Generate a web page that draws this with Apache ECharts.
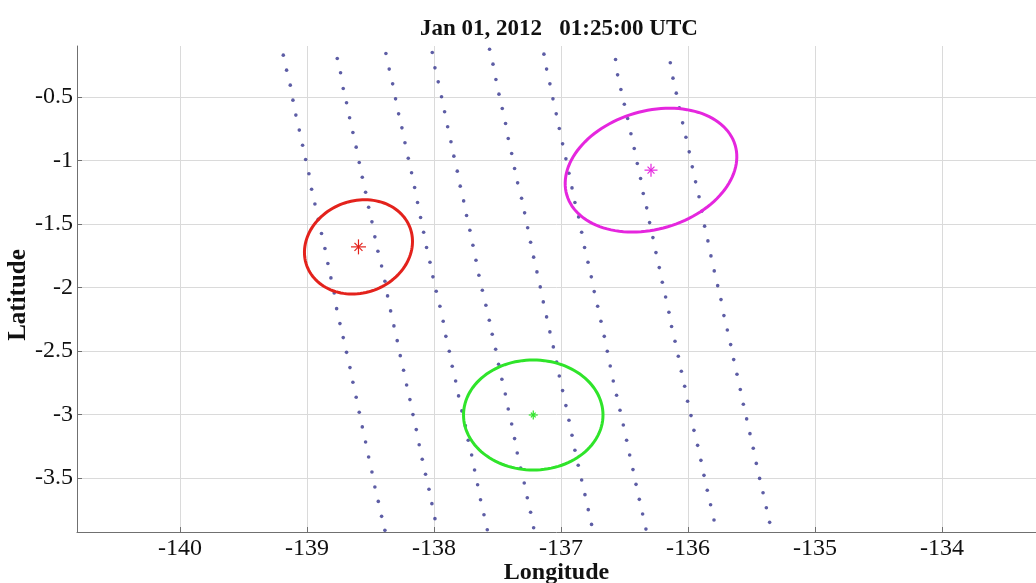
<!DOCTYPE html>
<html>
<head>
<meta charset="utf-8">
<title>Jan 01, 2012 01:25:00 UTC</title>
<script src="https://cdn.jsdelivr.net/npm/echarts@6/dist/echarts.min.js"></script>
<style>
  html, body { margin: 0; padding: 0; background: #fff; }
  #main { width: 1036px; height: 583px; }
</style>
</head>
<body>
<div id="main"></div>
<script>
// ground track samples, longitude / latitude in degrees
const pass1Lon = [-139.186,-139.160,-139.131,-139.110,-139.087,-139.060,-139.034,-139.010,-138.984,-138.963,-138.937,-138.911,-138.885,-138.858,-138.835,-138.811,-138.785,-138.766,-138.740,-138.714,-138.688,-138.661,-138.638,-138.612,-138.588,-138.564,-138.538,-138.514,-138.488,-138.465,-138.438,-138.412,-138.386];
const pass1Lat = [-0.172,-0.290,-0.408,-0.526,-0.644,-0.762,-0.881,-0.993,-1.106,-1.227,-1.343,-1.463,-1.576,-1.694,-1.812,-1.925,-2.043,-2.167,-2.285,-2.395,-2.511,-2.631,-2.747,-2.865,-2.983,-3.098,-3.217,-3.335,-3.453,-3.571,-3.684,-3.802,-3.912];
const pass2Lon = [-138.761,-138.735,-138.714,-138.688,-138.664,-138.638,-138.612,-138.588,-138.564,-138.538,-138.514,-138.488,-138.465,-138.441,-138.412,-138.386,-138.365,-138.341,-138.315,-138.289,-138.265,-138.239,-138.215,-138.189,-138.165,-138.139,-138.116,-138.092,-138.066,-138.039,-138.016,-137.992];
const pass2Lat = [-0.198,-0.311,-0.434,-0.547,-0.665,-0.781,-0.896,-1.017,-1.133,-1.251,-1.369,-1.484,-1.602,-1.715,-1.831,-1.951,-2.067,-2.185,-2.303,-2.419,-2.537,-2.652,-2.768,-2.883,-3.001,-3.119,-3.238,-3.353,-3.471,-3.589,-3.702,-3.820];
const pass3Lon = [-138.378,-138.352,-138.325,-138.302,-138.278,-138.252,-138.228,-138.202,-138.176,-138.152,-138.129,-138.105,-138.081,-138.058,-138.031,-138.008,-137.982,-137.953,-137.927,-137.906,-137.879,-137.856,-137.829,-137.806,-137.780,-137.753,-137.730,-137.703,-137.680,-137.656,-137.633,-137.606,-137.580];
const pass3Lat = [-0.159,-0.282,-0.398,-0.516,-0.634,-0.744,-0.862,-0.983,-1.098,-1.214,-1.332,-1.450,-1.566,-1.686,-1.802,-1.917,-2.030,-2.148,-2.266,-2.385,-2.503,-2.621,-2.736,-2.854,-2.972,-3.088,-3.203,-3.319,-3.437,-3.553,-3.671,-3.789,-3.907];
const pass4Lon = [-138.013,-137.992,-137.966,-137.940,-137.916,-137.892,-137.866,-137.843,-137.816,-137.793,-137.766,-137.743,-137.717,-137.693,-137.669,-137.646,-137.619,-137.591,-137.564,-137.541,-137.514,-137.491,-137.465,-137.438,-137.415,-137.388,-137.365,-137.344,-137.317,-137.289,-137.265,-137.239,-137.215];
const pass4Lat = [-0.151,-0.272,-0.382,-0.500,-0.618,-0.736,-0.854,-0.967,-1.085,-1.203,-1.319,-1.434,-1.550,-1.668,-1.786,-1.904,-2.022,-2.140,-2.259,-2.369,-2.487,-2.605,-2.723,-2.839,-2.957,-3.075,-3.190,-3.303,-3.421,-3.539,-3.655,-3.770,-3.891];
const pass5Lon = [-137.562,-137.535,-137.512,-137.488,-137.462,-137.436,-137.415,-137.388,-137.365,-137.341,-137.310,-137.286,-137.262,-137.239,-137.215,-137.189,-137.163,-137.139,-137.113,-137.087,-137.060,-137.034,-137.013,-136.987,-136.961,-136.937,-136.913,-136.890,-136.864,-136.837,-136.811,-136.785,-136.759];
const pass5Lat = [-0.125,-0.243,-0.364,-0.479,-0.592,-0.710,-0.828,-0.946,-1.064,-1.177,-1.298,-1.413,-1.531,-1.644,-1.762,-1.878,-1.996,-2.114,-2.232,-2.350,-2.468,-2.587,-2.697,-2.812,-2.930,-3.046,-3.164,-3.282,-3.400,-3.516,-3.631,-3.749,-3.865];
const pass6Lon = [-137.134,-137.113,-137.087,-137.063,-137.037,-137.013,-136.987,-136.961,-136.937,-136.913,-136.890,-136.861,-136.837,-136.814,-136.787,-136.761,-136.738,-136.711,-136.685,-136.659,-136.635,-136.612,-136.588,-136.562,-136.535,-136.509,-136.483,-136.459,-136.433,-136.409,-136.383,-136.357,-136.331];
const pass6Lat = [-0.164,-0.282,-0.398,-0.516,-0.634,-0.749,-0.870,-0.988,-1.101,-1.217,-1.332,-1.445,-1.566,-1.686,-1.802,-1.917,-2.033,-2.148,-2.266,-2.385,-2.503,-2.618,-2.736,-2.849,-2.967,-3.083,-3.203,-3.319,-3.434,-3.550,-3.668,-3.783,-3.902];
const pass7Lon = [-136.570,-136.554,-136.528,-136.501,-136.475,-136.449,-136.423,-136.399,-136.373,-136.352,-136.325,-136.302,-136.276,-136.252,-136.226,-136.202,-136.176,-136.150,-136.129,-136.102,-136.076,-136.052,-136.026,-136.003,-135.976,-135.953,-135.924,-135.898,-135.874,-135.848,-135.822,-135.795];
const pass7Lat = [-0.206,-0.327,-0.442,-0.558,-0.671,-0.791,-0.907,-1.025,-1.143,-1.261,-1.374,-1.490,-1.608,-1.726,-1.844,-1.959,-2.075,-2.196,-2.308,-2.424,-2.542,-2.660,-2.778,-2.896,-3.009,-3.125,-3.243,-3.361,-3.479,-3.597,-3.710,-3.831];
const pass8Lon = [-136.139,-136.118,-136.092,-136.068,-136.042,-136.016,-135.990,-135.966,-135.940,-135.913,-135.892,-135.869,-135.843,-135.819,-135.793,-135.766,-135.740,-135.717,-135.690,-135.664,-135.640,-135.614,-135.588,-135.564,-135.538,-135.512,-135.486,-135.462,-135.436,-135.409,-135.383,-135.357];
const pass8Lat = [-0.232,-0.353,-0.471,-0.587,-0.705,-0.818,-0.933,-1.051,-1.169,-1.287,-1.400,-1.518,-1.634,-1.752,-1.870,-1.986,-2.096,-2.222,-2.335,-2.450,-2.568,-2.684,-2.804,-2.920,-3.035,-3.151,-3.266,-3.385,-3.503,-3.616,-3.734,-3.849];

// error ellipses: centre (star), semi axes in degrees, tilt in degrees
const ellipseLon = [-138.594, -136.291, -137.218];
const ellipseLat = [-1.681, -1.077, -3.004];
const ellipseSemiMajor = [0.433, 0.691, 0.549];
const ellipseSemiMinor = [0.362, 0.465, 0.433];
const ellipseTilt = [20, 16.5, 0];

const ellipseColors = ['#e3221c', '#e526de', '#2fe42a'];
const starSizes = [15, 13, 9];
const dotColor = '#35358e';
const serif = "'Liberation Serif', 'DejaVu Serif', serif";

const passes = [
  [pass1Lon, pass1Lat], [pass2Lon, pass2Lat], [pass3Lon, pass3Lat], [pass4Lon, pass4Lat],
  [pass5Lon, pass5Lat], [pass6Lon, pass6Lat], [pass7Lon, pass7Lat], [pass8Lon, pass8Lat]
];

// ellipse outline + asterisk marker at its centre
function renderEllipse(params, api) {
  const cx = api.value(0), cy = api.value(1);
  const a = api.value(2), b = api.value(3);
  const t = api.value(4) * Math.PI / 180;
  const pts = [];
  for (let i = 0; i <= 120; i++) {
    const u = i / 120 * 2 * Math.PI;
    const dx = a * Math.cos(u), dy = b * Math.sin(u);
    pts.push(api.coord([
      cx + dx * Math.cos(t) - dy * Math.sin(t),
      cy + dx * Math.sin(t) + dy * Math.cos(t)
    ]));
  }
  const color = ellipseColors[params.dataIndex];
  const c = api.coord([cx, cy]);
  const r = starSizes[params.dataIndex] / 2;
  const star = [0, 45, 90, 135].map(function (deg) {
    const k = deg * Math.PI / 180;
    const rr = deg % 90 === 0 ? r : r * 0.75;
    return {
      type: 'line',
      shape: {
        x1: c[0] - rr * Math.cos(k), y1: c[1] - rr * Math.sin(k),
        x2: c[0] + rr * Math.cos(k), y2: c[1] + rr * Math.sin(k)
      },
      style: { stroke: color, lineWidth: 1.2 }
    };
  });
  return {
    type: 'group',
    children: [{
      type: 'polyline',
      shape: { points: pts },
      style: { fill: null, stroke: color, lineWidth: 3 }
    }].concat(star)
  };
}

const chart = echarts.init(document.getElementById('main'));

const series = passes.map(function (p) {
  return {
    type: 'scatter',
    symbol: 'circle',
    symbolSize: 3.6,
    itemStyle: { color: dotColor },
    silent: true,
    data: p[0].map(function (lon, i) { return [lon, p[1][i]]; })
  };
});
series.push({
  type: 'custom',
  renderItem: renderEllipse,
  silent: true,
  z: 5,
  data: ellipseLon.map(function (lon, i) {
    return [lon, ellipseLat[i], ellipseSemiMajor[i], ellipseSemiMinor[i], ellipseTilt[i]];
  })
});

chart.setOption({
  animation: false,
  backgroundColor: '#fff',
  title: {
    text: 'Jan 01, 2012   01:25:00 UTC',
    left: 415,
    top: 13,
    textStyle: { fontFamily: serif, fontWeight: 'bold', fontSize: 23, color: '#111' }
  },
  grid: { left: 77, right: 0, top: 46, bottom: 51, containLabel: false, outerBoundsMode: 'none' },
  xAxis: {
    type: 'value',
    min: -140.81,
    max: -133.26,
    minInterval: 1,
    maxInterval: 1,
    name: 'Longitude',
    nameLocation: 'middle',
    nameGap: 29,
    nameMoveOverlap: false,
    nameTextStyle: { fontFamily: serif, fontWeight: 'bold', fontSize: 24, color: '#111' },
    axisLine: { lineStyle: { color: '#707070', width: 1 } },
    axisTick: { inside: true, length: 5, lineStyle: { color: '#707070' } },
    axisLabel: { showMinLabel: false, showMaxLabel: false, margin: 5, fontFamily: serif, fontSize: 24, color: '#111' },
    splitLine: { show: true, showMinLine: false, showMaxLine: false, lineStyle: { color: '#dadada', width: 1 } }
  },
  yAxis: {
    type: 'value',
    min: -3.925,
    max: -0.1,
    minInterval: 0.5,
    maxInterval: 0.5,
    name: 'Latitude',
    nameLocation: 'middle',
    nameGap: 46,
    nameMoveOverlap: false,
    nameTextStyle: { fontFamily: serif, fontWeight: 'bold', fontSize: 25, color: '#111', padding: [0, 12, 0, 0] },
    axisLine: { show: true, lineStyle: { color: '#707070', width: 1 } },
    axisTick: { show: true, inside: true, length: 5, lineStyle: { color: '#707070' } },
    axisLabel: { showMinLabel: false, showMaxLabel: false, margin: 4, fontFamily: serif, fontSize: 24, color: '#111' },
    splitLine: { show: true, showMinLine: false, showMaxLine: false, lineStyle: { color: '#dadada', width: 1 } }
  },
  series: series
});

window.addEventListener('resize', function () { chart.resize(); });
</script>
</body>
</html>
